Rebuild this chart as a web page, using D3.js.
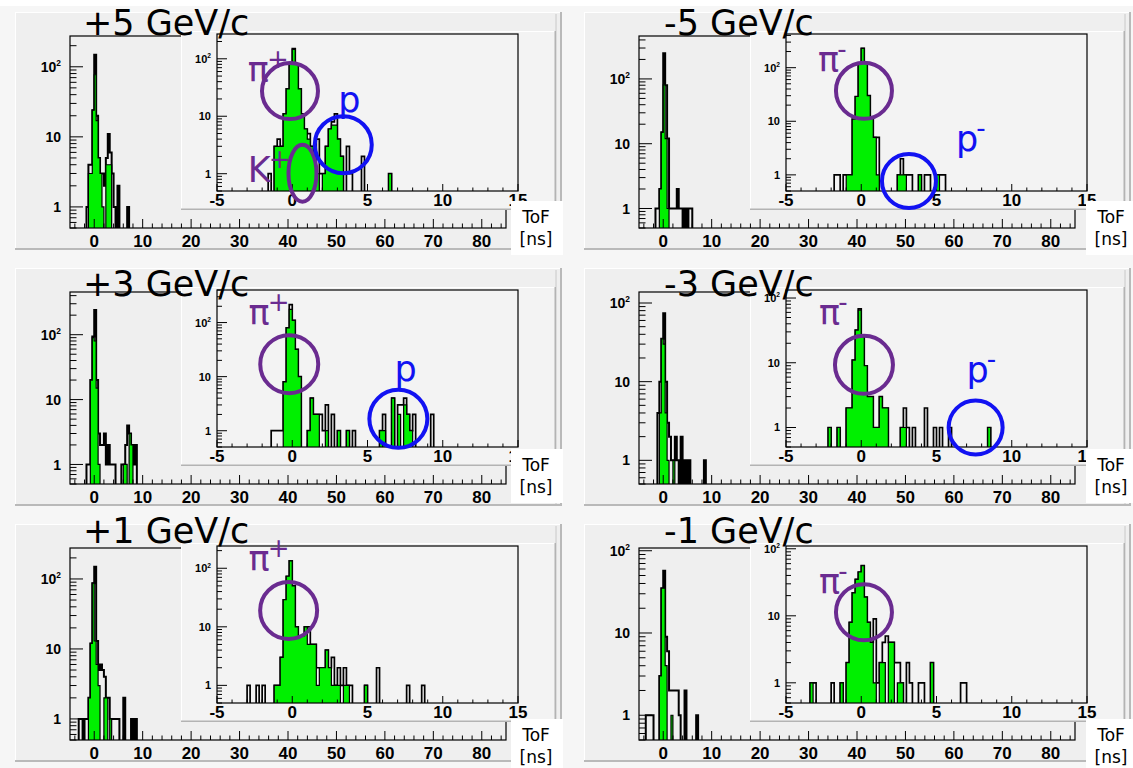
<!DOCTYPE html>
<html>
<head>
<meta charset="utf-8">
<script src="https://cdn.jsdelivr.net/npm/d3@7"></script>
<style>
  body { margin: 0; background: #fff; }
  svg { display: block; }
</style>
</head>
<body>
<div id="chart"></div>
<script>
// ToF spectra, 6 beam settings; main plot -5..85 ns, zoomed inset -5..15 ns
// bins given as [left edge (ns), counts]; main bins 0.4 ns, inset bins 0.2 ns

var mainBin = 0.4;
var insetBin = 0.2;

// +5 GeV/c
var mainAllP5 = [[-1.6,1],[-1.2,4],[-0.8,4],[-0.4,24],[0.0,148],[0.4,20],[0.8,5],[1.2,3],[1.6,3],[2.0,2],[2.4,5],[2.8,11],[3.2,6],[3.6,3],[4.0,1],[4.8,2],[6.8,1]];
var mainSelP5 = [[-1.2,3],[-0.8,3],[-0.4,24],[0.0,77],[0.4,17],[0.8,5],[1.2,3],[1.6,1],[2.4,4],[2.8,4],[3.2,4]];
var insetAllP5 = [[-1.6,1],[-1.2,3],[-1.0,4],[-0.8,3],[-0.6,11],[-0.4,30],[-0.2,80],[0.0,150],[0.2,80],[0.4,30],[0.6,11],[0.8,6],[1.0,5],[1.2,3],[1.4,2],[1.6,4],[1.8,1],[2.0,1],[2.2,3],[2.4,6],[2.6,8],[2.8,11],[3.0,4],[3.2,2],[3.6,3],[3.8,1],[4.6,2],[6.4,1]];
var insetSelP5 = [[-1.2,3],[-1.0,3],[-0.8,3],[-0.6,11],[-0.4,30],[-0.2,80],[0.0,145],[0.2,80],[0.4,30],[0.6,11],[0.8,6],[1.0,4],[1.2,3],[1.4,2],[1.6,1],[2.0,1],[2.2,3],[2.4,6],[2.6,7],[2.8,7],[3.0,4],[3.2,2],[6.4,1]];

// -5 GeV/c
var mainAllM5 = [[-1.6,1],[-1.2,1],[-0.8,2],[-0.4,15],[0.0,250],[0.4,80],[0.8,12],[1.2,1],[1.6,1],[2.0,1],[2.4,1],[2.8,2],[3.2,1],[3.6,1],[4.4,1],[5.2,1],[5.6,1]];
var mainSelM5 = [[-0.8,2],[-0.4,15],[0.0,81],[0.4,12],[0.8,1]];
var insetAllM5 = [[-1.8,1],[-1.6,1],[-1.2,1],[-1.0,1],[-0.8,1],[-0.6,11],[-0.4,29],[-0.2,122],[0.0,230],[0.2,122],[0.4,30],[0.6,12],[0.8,5],[1.0,5],[2.4,1],[2.6,2],[2.8,1],[3.0,1],[3.2,1],[3.8,1],[4.2,1],[4.4,1],[5.0,1],[5.2,1],[5.4,1]];
var insetSelM5 = [[-1.0,1],[-0.8,1],[-0.6,11],[-0.4,29],[-0.2,122],[0.0,230],[0.2,122],[0.4,30],[0.6,12],[0.8,5],[1.0,1],[2.4,1],[2.6,1],[2.8,1],[3.8,1],[5.0,1]];

// +3 GeV/c
var mainAllP3 = [[-1.6,1],[-1.2,1],[-0.8,20],[-0.4,94],[0.0,240],[0.4,20],[0.8,3],[1.2,2],[1.6,2],[2.0,3],[2.4,1],[2.8,2],[3.2,1],[3.6,1],[4.0,1],[5.6,1],[6.0,1],[6.4,2],[6.8,4],[7.2,3],[7.6,2],[8.0,1],[8.4,2]];
var mainSelP3 = [[-0.8,20],[-0.4,90],[0.0,80],[0.4,15],[0.8,1],[6.0,1],[6.4,1],[7.2,3],[7.6,2]];
var insetAllP3 = [[-1.4,1],[-1.2,1],[-1.0,1],[-0.8,1],[-0.6,8],[-0.4,80],[-0.2,215],[0.0,110],[0.2,32],[0.4,10],[1.0,1],[1.2,4],[1.4,2],[1.6,2],[1.8,2],[2.0,1],[2.2,3],[2.6,2],[3.0,1],[3.6,1],[4.0,1],[5.8,1],[6.0,2],[6.6,4],[7.0,3],[7.2,3],[7.4,4],[7.6,2],[7.8,1],[8.0,2],[9.2,2]];
var insetSelP3 = [[-0.6,8],[-0.4,80],[-0.2,175],[0.0,110],[0.2,32],[0.4,10],[1.0,1],[1.2,4],[1.4,2],[1.6,2],[2.2,1],[3.0,1],[3.6,1],[5.8,1],[6.0,1],[6.6,4],[7.0,2],[7.4,3],[7.6,2],[7.8,1]];

// -3 GeV/c
var mainAllM3 = [[-1.2,4],[-0.8,10],[-0.4,35],[0.0,74],[0.4,10],[0.8,3],[1.2,2],[1.6,1],[2.0,1],[2.4,2],[2.8,1],[3.6,2],[4.4,1],[5.2,1],[8.4,1]];
var mainSelM3 = [[-0.8,4],[-0.4,35],[0.0,30],[0.4,4],[0.8,1],[2.0,1]];
var insetAllM3 = [[-2.2,1],[-1.6,1],[-1.0,2],[-0.8,2],[-0.6,11],[-0.4,32],[-0.2,68],[0.0,25],[0.2,9],[0.4,3],[0.6,3],[0.8,1],[1.0,1],[1.2,3],[1.4,2],[1.6,2],[2.6,1],[2.8,2],[3.0,1],[3.4,1],[4.2,2],[4.8,1],[5.2,1],[5.8,1],[8.4,1]];
var insetSelM3 = [[-2.2,1],[-1.6,1],[-1.0,2],[-0.8,2],[-0.6,11],[-0.4,32],[-0.2,65],[0.0,25],[0.2,9],[0.4,3],[0.6,3],[0.8,1],[1.0,1],[1.2,3],[1.4,2],[1.6,2],[2.6,1],[2.8,1],[8.4,1]];

// +1 GeV/c
var mainAllP1 = [[-3.2,1],[-2.8,1],[-2.0,1],[-1.6,1],[-1.2,2],[-0.8,12],[-0.4,87],[0.0,150],[0.4,13],[0.8,5],[1.2,6],[1.6,5],[2.0,4],[2.4,2],[2.8,2],[3.2,1],[3.6,1],[4.0,1],[4.4,1],[4.8,1],[6.0,2],[7.6,1],[8.4,1]];
var mainSelP1 = [[-1.2,2],[-0.8,12],[-0.4,87],[0.0,13],[0.4,6],[0.8,3],[2.0,2],[2.4,2],[3.2,1]];
var insetAllP1 = [[-3.0,1],[-2.4,1],[-2.0,1],[-1.2,1],[-1.0,1],[-0.8,3],[-0.6,29],[-0.4,73],[-0.2,134],[0.0,50],[0.2,10],[0.4,7],[0.6,7],[0.8,10],[1.0,10],[1.2,5],[1.4,5],[1.6,2],[1.8,2],[2.0,2],[2.2,4],[2.4,2],[2.6,3],[2.8,1],[3.0,2],[3.2,1],[3.4,2],[3.6,1],[3.8,1],[4.8,1],[5.6,2],[7.6,1],[8.6,1]];
var insetSelP1 = [[-1.2,1],[-1.0,1],[-0.8,3],[-0.6,29],[-0.4,73],[-0.2,134],[0.0,50],[0.2,10],[0.4,7],[0.6,7],[0.8,10],[1.0,5],[1.2,5],[1.4,5],[1.6,1],[1.8,2],[2.0,2],[2.2,4],[2.4,2],[2.6,1],[2.8,1],[3.0,1],[3.4,1],[3.6,1],[4.8,1]];

// -1 GeV/c
var mainAllM1 = [[-3.6,1],[-3.2,1],[-2.8,1],[-2.4,1],[-0.8,3],[-0.4,35],[0.0,57],[0.4,9],[0.8,6],[1.2,2],[1.6,2],[2.0,2],[2.4,2],[2.8,2],[3.2,1],[4.4,2],[6.8,1]];
var mainSelM1 = [[-0.8,3],[-0.4,35],[0.0,35],[0.4,4],[1.6,1]];
var insetAllM1 = [[-3.4,1],[-3.2,1],[-2.0,1],[-1.4,1],[-1.0,2],[-0.8,8],[-0.6,22],[-0.4,35],[-0.2,45],[0.0,56],[0.2,19],[0.4,8],[0.6,4],[0.8,9],[1.0,1],[1.2,2],[1.4,4],[1.6,5],[1.8,4],[2.0,4],[2.2,2],[2.4,2],[2.6,1],[3.0,2],[3.2,1],[3.8,1],[4.0,1],[4.6,2],[6.6,1],[6.8,1]];
var insetSelM1 = [[-3.4,1],[-1.4,1],[-1.0,2],[-0.8,8],[-0.6,22],[-0.4,35],[-0.2,45],[0.0,56],[0.2,19],[0.4,8],[0.6,4],[0.8,1],[1.2,2],[1.4,2],[1.8,4],[2.0,4],[2.4,1],[2.6,1],[4.6,2]];

// panel titles and y ranges (log axes, min 0.5)
var titles = ["+5 GeV/c", "-5 GeV/c", "+3 GeV/c", "-3 GeV/c", "+1 GeV/c", "-1 GeV/c"];
var mainYMax = [275, 460, 455, 138, 277, 108];
var insetYMax = [270, 425, 400, 133, 240, 110];

// axis ticks
var mainXRange = [-5, 85];
var insetXRange = [-5, 15];
var mainXTicks = [0, 10, 20, 30, 40, 50, 60, 70, 80];
var insetXTicks = [-5, 0, 5, 10, 15];
var yTicks = [1, 10, 100];

// particle annotations, inset coordinates: [text, superscript, kind, x(ns), y(counts)]
var labelsP5 = [["π","+","pi",-2.95,40],["K","+","pi",-2.95,0.73],["p","","p",3.05,12]];
var labelsM5 = [["π","-","pi",-2.87,84],["p","-","p",6.3,2.8]];
var labelsP3 = [["π","+","pi",-2.9,92],["p","","p",6.8,8.4]];
var labelsM3 = [["π","-","pi",-2.8,38],["p","-","p",7.0,5.1]];
var labelsP1 = [["π","+","pi",-2.9,89]];
var labelsM1 = [["π","-","pi",-2.8,21.5]];
// rings: [x(ns), y(counts), rx px, ry px, kind]
var ringsP5 = [[-0.15,27.4,28,28,"pi"],[0.68,1.02,14,28.5,"pi"],[3.39,3.2,28.5,28.5,"p"]];
var ringsM5 = [[0.18,37,28,28,"pi"],[3.17,0.77,27,27,"p"]];
var ringsP3 = [[-0.2,17,29,29,"pi"],[7.05,1.66,29,29,"p"]];
var ringsM3 = [[0.18,9.3,29,29,"pi"],[7.6,1.0,27,27,"p"]];
var ringsP1 = [[-0.24,19,28.5,28.5,"pi"]];
var ringsM1 = [[0.18,11.3,28,28,"pi"]];

var kindColor = { pi: "#6a2b90", p: "#1212f2" };

var panels = [
  { mainAll: mainAllP5, mainSel: mainSelP5, insetAll: insetAllP5, insetSel: insetSelP5, labels: labelsP5, rings: ringsP5 },
  { mainAll: mainAllM5, mainSel: mainSelM5, insetAll: insetAllM5, insetSel: insetSelM5, labels: labelsM5, rings: ringsM5 },
  { mainAll: mainAllP3, mainSel: mainSelP3, insetAll: insetAllP3, insetSel: insetSelP3, labels: labelsP3, rings: ringsP3 },
  { mainAll: mainAllM3, mainSel: mainSelM3, insetAll: insetAllM3, insetSel: insetSelM3, labels: labelsM3, rings: ringsM3 },
  { mainAll: mainAllP1, mainSel: mainSelP1, insetAll: insetAllP1, insetSel: insetSelP1, labels: labelsP1, rings: ringsP1 },
  { mainAll: mainAllM1, mainSel: mainSelM1, insetAll: insetAllM1, insetSel: insetSelM1, labels: labelsM1, rings: ringsM1 }
];

// ---- layout ----
var W = 1133, H = 768;
var colX = [0, 569];
var rowY = [0, 256, 512];
var titleX = [83, 664];
var titleY = [35, 296, 543];
var tofX = [511, 1086];
var tofY = [201, 449, 719];

var padBox = { x0: 15, y0: 12, x1: 562, y1: 250 };
var mainFrame = { x0: 70, y0: 36, x1: 506, y1: 228 };
var insetPad = { x0: 181, y0: 31, x1: 556, y1: 210 };
var insetFrame = { x0: 217, y0: 34, x1: 518, y1: 191 };

var green = "#00f000";
var axisFont = "'Liberation Sans', Arial, sans-serif";
var textFont = "'DejaVu Sans', Verdana, sans-serif";

var svg = d3.select("#chart").append("svg")
  .attr("width", W).attr("height", H);

svg.append("rect").attr("width", W).attr("height", H).attr("fill", "#f6f6f6");
svg.append("rect").attr("x", 0).attr("y", 0).attr("width", W).attr("height", 6).attr("fill", "#fff");

var defs = svg.append("defs");

// build step points for a histogram over a range
function stepPoints(data, w, lo, hi) {
  var m = new Map();
  data.forEach(function(d) { m.set(Math.round(d[0] / w), d[1]); });
  var pts = [];
  var n0 = Math.round(lo / w), n1 = Math.round(hi / w);
  for (var i = n0; i < n1; i++) {
    var c = m.get(i) || 0;
    pts.push([i * w, c], [(i + 1) * w, c]);
  }
  return pts;
}

function drawHists(g, all, sel, w, x, y, clipId, lw) {
  var yb = y.range()[0] + 2;
  var yv = function(c) { return c > 0 ? y(c) : yb; };
  var lo = x.domain()[0], hi = x.domain()[1];
  var line = d3.line().x(function(d) { return x(d[0]); }).y(function(d) { return yv(d[1]); });
  var area = d3.area().x(function(d) { return x(d[0]); }).y0(yb).y1(function(d) { return yv(d[1]); });

  var hg = g.append("g").attr("clip-path", "url(#" + clipId + ")");
  var pa = stepPoints(all, w, lo, hi);
  var ps = stepPoints(sel, w, lo, hi);

  hg.append("path").attr("d", line(pa))
    .attr("fill", "none").attr("stroke", "#000").attr("stroke-width", lw);
  hg.append("path").attr("d", area(ps)).attr("fill", green);
  hg.append("path").attr("d", line(ps))
    .attr("fill", "none").attr("stroke", "#000").attr("stroke-width", 1.2);
}

function drawAxes(g, x, y, f, o) {
  var ax = g.append("g").attr("stroke", "#000").attr("stroke-width", 1);
  // x ticks (inside, pointing up)
  d3.range(o.xMinorStart, x.domain()[1] + 1e-9, o.xMinor).forEach(function(v) {
    var major = Math.abs(v / o.xMajor - Math.round(v / o.xMajor)) < 1e-6;
    ax.append("line").attr("x1", x(v)).attr("x2", x(v))
      .attr("y1", f.y1).attr("y2", f.y1 - (major ? o.xLen : o.xLen / 2));
  });
  // y log ticks (inside, pointing right)
  var ymin = y.domain()[0], ymax = y.domain()[1];
  [0.1, 1, 10, 100, 1000].forEach(function(dec) {
    for (var k = 1; k <= 9; k++) {
      var v = k * dec;
      if (v < ymin || v > ymax) continue;
      var len = k === 1 ? o.yLen : o.yLen / 2;
      ax.append("line").attr("x1", f.x0).attr("x2", f.x0 + len)
        .attr("y1", y(v)).attr("y2", y(v));
    }
  });
  // frame
  g.append("rect").attr("x", f.x0).attr("y", f.y0)
    .attr("width", f.x1 - f.x0).attr("height", f.y1 - f.y0)
    .attr("fill", "none").attr("stroke", "#000").attr("stroke-width", 1.2);

  // labels
  g.selectAll(null).data(o.xTicks).enter().append("text")
    .attr("x", function(d) { return x(d); })
    .attr("y", f.y1 + o.xLabDy)
    .attr("text-anchor", "middle")
    .attr("font-family", axisFont).attr("font-weight", "bold")
    .attr("font-size", o.xFont)
    .text(function(d) { return d; });

  yTicks.forEach(function(v) {
    var t = g.append("text")
      .attr("x", f.x0 - o.yLabGap)
      .attr("y", y(v) + o.yFont * 0.36)
      .attr("text-anchor", "end")
      .attr("font-family", axisFont).attr("font-weight", "bold")
      .attr("font-size", o.yFont);
    if (v === 100) {
      t.append("tspan").text("10");
      t.append("tspan").attr("font-size", o.yFont * 0.6).attr("dy", -o.yFont * 0.42).text("2");
    } else {
      t.text(v);
    }
  });
}

function bevel(g, b, light, dark, wd) {
  g.append("line").attr("x1", b.x0).attr("x2", b.x1).attr("y1", b.y0 + 0.5).attr("y2", b.y0 + 0.5)
    .attr("stroke", light).attr("stroke-width", 1);
  g.append("line").attr("x1", b.x0 + 0.5).attr("x2", b.x0 + 0.5).attr("y1", b.y0).attr("y2", b.y1)
    .attr("stroke", light).attr("stroke-width", 1);
  g.append("line").attr("x1", b.x0).attr("x2", b.x1).attr("y1", b.y1 - wd / 2).attr("y2", b.y1 - wd / 2)
    .attr("stroke", dark).attr("stroke-width", wd);
  g.append("line").attr("x1", b.x1 - wd / 2).attr("x2", b.x1 - wd / 2).attr("y1", b.y0).attr("y2", b.y1)
    .attr("stroke", dark).attr("stroke-width", wd);
}

panels.forEach(function(p, i) {
  var col = i % 2, row = Math.floor(i / 2);
  var g = svg.append("g").attr("transform", "translate(" + colX[col] + "," + rowY[row] + ")");

  // pad
  g.append("rect").attr("x", padBox.x0).attr("y", padBox.y0)
    .attr("width", padBox.x1 - padBox.x0).attr("height", padBox.y1 - padBox.y0)
    .attr("fill", "#efefef");
  bevel(g, padBox, "#ffffff", "#b9b9b9", 2);
  g.append("line").attr("x1", padBox.x1 - 6).attr("x2", padBox.x1 - 6)
    .attr("y1", padBox.y0 + 2).attr("y2", padBox.y1 - 2)
    .attr("stroke", "#c8c8c8").attr("stroke-width", 1);

  // main plot
  var xm = d3.scaleLinear().domain(mainXRange).range([mainFrame.x0, mainFrame.x1]);
  var ym = d3.scaleLog().domain([0.5, mainYMax[i]]).range([mainFrame.y1, mainFrame.y0]);
  var cm = "clipm" + i;
  defs.append("clipPath").attr("id", cm).append("rect")
    .attr("x", mainFrame.x0).attr("y", mainFrame.y0)
    .attr("width", mainFrame.x1 - mainFrame.x0).attr("height", mainFrame.y1 - mainFrame.y0);
  drawHists(g, p.mainAll, p.mainSel, mainBin, xm, ym, cm, 2);
  drawAxes(g, xm, ym, mainFrame, {
    xMinorStart: -4, xMinor: 2, xMajor: 10, xLen: 9, yLen: 13,
    xTicks: mainXTicks, xLabDy: 19, xFont: 17, yFont: 14, yLabGap: 9
  });

  // inset pad
  g.append("rect").attr("x", insetPad.x0).attr("y", insetPad.y0)
    .attr("width", insetPad.x1 - insetPad.x0).attr("height", insetPad.y1 - insetPad.y0)
    .attr("fill", "#f3f3f3");
  bevel(g, insetPad, "#ffffff", "#b3b3b3", 1.5);

  var xi = d3.scaleLinear().domain(insetXRange).range([insetFrame.x0, insetFrame.x1]);
  var yi = d3.scaleLog().domain([0.5, insetYMax[i]]).range([insetFrame.y1, insetFrame.y0]);
  var ci = "clipi" + i;
  defs.append("clipPath").attr("id", ci).append("rect")
    .attr("x", insetFrame.x0).attr("y", insetFrame.y0)
    .attr("width", insetFrame.x1 - insetFrame.x0).attr("height", insetFrame.y1 - insetFrame.y0);
  drawHists(g, p.insetAll, p.insetSel, insetBin, xi, yi, ci, 1.7);
  drawAxes(g, xi, yi, insetFrame, {
    xMinorStart: -5, xMinor: 1, xMajor: 5, xLen: 7, yLen: 10,
    xTicks: insetXTicks, xLabDy: 15, xFont: 17, yFont: 11, yLabGap: 6
  });

  // rings
  p.rings.forEach(function(r) {
    g.append("ellipse")
      .attr("cx", xi(r[0])).attr("cy", yi(r[1]))
      .attr("rx", r[2]).attr("ry", r[3])
      .attr("fill", "none").attr("stroke", kindColor[r[4]]).attr("stroke-width", 4);
  });
  // particle labels
  p.labels.forEach(function(l) {
    var t = g.append("text")
      .attr("x", xi(l[3])).attr("y", yi(l[4]))
      .attr("font-family", textFont).attr("font-size", 35)
      .attr("fill", kindColor[l[2]]);
    t.append("tspan").text(l[0]);
    if (l[1]) {
      t.append("tspan").attr("font-size", 26).attr("dy", -14).attr("dx", -2)
        .text(l[1] === "-" ? "-" : "+");
    }
  });
});

// titles and axis caption boxes drawn on top
titles.forEach(function(t, i) {
  var col = i % 2, row = Math.floor(i / 2);
  svg.append("text")
    .attr("x", titleX[col]).attr("y", titleY[row])
    .attr("font-family", textFont).attr("font-size", 35)
    .attr("fill", "#000")
    .text(t);

  var bx = tofX[col], by = tofY[row];
  svg.append("rect").attr("x", bx).attr("y", by).attr("width", 52).attr("height", 54).attr("fill", "#fff");
  svg.append("text").attr("x", bx + 25).attr("y", by + 22)
    .attr("text-anchor", "middle").attr("font-family", textFont).attr("font-size", 17)
    .text("ToF");
  svg.append("text").attr("x", bx + 25).attr("y", by + 44)
    .attr("text-anchor", "middle").attr("font-family", textFont).attr("font-size", 17)
    .text("[ns]");
});
</script>
</body>
</html>
